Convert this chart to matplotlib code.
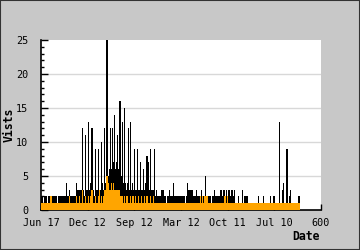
import matplotlib
matplotlib.use("Agg")
import matplotlib.pyplot as plt
import numpy as np
from matplotlib.patches import Rectangle

# Visits per two-day bin (black) and the lower orange series.
visits = [
    2, 2, 1, 2, 2, 2, 1, 2, 2, 2,
    2, 1, 2, 2, 2, 2, 2, 1, 2, 2,
    2, 2, 2, 2, 2, 1, 2, 4, 2, 2,
    3, 2, 2, 2, 2, 2, 2, 4, 2, 3,
    3, 3, 3, 3, 12, 3, 2, 11, 3, 3,
    13, 3, 2, 4, 12, 3, 3, 2, 9, 3,
    3, 9, 3, 3, 10, 4, 3, 12, 4, 3,
    25, 5, 5, 6, 12, 6, 12, 7, 14, 6,
    7, 11, 6, 5, 16, 4, 5, 13, 4, 15,
    4, 3, 4, 12, 3, 13, 3, 4, 3, 3,
    9, 3, 3, 9, 3, 3, 7, 3, 3, 6,
    3, 4, 3, 8, 7, 3, 3, 9, 3, 3,
    3, 9, 2, 3, 2, 2, 2, 2, 2, 3,
    2, 3, 2, 2, 1, 2, 2, 3, 2, 2,
    2, 4, 2, 2, 2, 1, 2, 2, 2, 2,
    2, 2, 2, 2, 1, 2, 4, 2, 3, 2,
    3, 2, 3, 2, 2, 2, 3, 2, 2, 2,
    2, 3, 2, 2, 1, 2, 5, 2, 2, 2,
    2, 2, 1, 2, 2, 3, 2, 2, 1, 2,
    2, 2, 3, 3, 2, 3, 3, 2, 3, 2,
    3, 3, 2, 2, 3, 1, 2, 3, 1, 1,
    1, 2, 1, 1, 1, 3, 1, 1, 2, 1,
    2, 1, 1, 1, 1, 1, 1, 1, 1, 1,
    1, 1, 2, 1, 1, 1, 1, 1, 2, 1,
    1, 1, 1, 1, 1, 2, 1, 1, 1, 2,
    1, 1, 1, 1, 1, 13, 1, 1, 3, 4,
    1, 1, 2, 9, 1, 1, 2, 3, 1, 1,
    1, 1, 1, 1, 1, 2, 2,
]
unique = [
    1, 1, 1, 1, 1, 1, 1, 1, 1, 1,
    2, 1, 1, 1, 1, 1, 1, 1, 1, 1,
    1, 1, 1, 1, 1, 1, 1, 1, 1, 1,
    2, 1, 1, 1, 1, 1, 1, 2, 1, 1,
    1, 2, 1, 1, 3, 1, 1, 2, 1, 1,
    2, 1, 1, 2, 3, 1, 1, 1, 2, 1,
    1, 2, 3, 1, 2, 1, 2, 3, 3, 3,
    5, 5, 4, 3, 3, 4, 3, 4, 3, 3,
    3, 3, 2, 3, 2, 1, 2, 2, 1, 2,
    1, 2, 2, 1, 1, 2, 1, 1, 2, 1,
    1, 2, 1, 1, 2, 1, 1, 2, 1, 1,
    2, 1, 1, 2, 1, 1, 1, 2, 1, 1,
    2, 1, 1, 1, 1, 1, 1, 1, 1, 1,
    1, 1, 1, 1, 1, 1, 1, 1, 1, 1,
    1, 1, 1, 1, 1, 1, 1, 1, 1, 1,
    1, 1, 1, 1, 1, 1, 1, 1, 1, 1,
    1, 1, 1, 1, 1, 1, 1, 1, 1, 1,
    2, 1, 2, 1, 1, 2, 1, 2, 2, 1,
    1, 1, 1, 1, 1, 1, 1, 1, 1, 1,
    1, 1, 1, 1, 1, 1, 2, 2, 1, 2,
    1, 1, 1, 1, 1, 1, 1, 1, 1, 1,
    1, 1, 1, 1, 1, 1, 1, 1, 1, 1,
    1, 1, 1, 1, 1, 1, 1, 1, 1, 1,
    1, 1, 1, 1, 1, 1, 1, 1, 1, 1,
    1, 1, 1, 1, 1, 1, 1, 1, 1, 1,
    1, 1, 1, 1, 1, 1, 1, 1, 1, 1,
    1, 1, 1, 1, 1, 1, 1, 1, 1, 1,
    1, 1, 1, 1, 1, 1, 1,
]
tick_pos = [0, 100, 200, 300, 400, 500, 600]
tick_labels = ["Jun 17", "Dec 12", "Sep 12", "Mar 12", "Oct 11", "Jul 10", "600"]

bin_days = 2
days = np.arange(len(visits)) * bin_days

mono = "DejaVu Sans Mono"
fig = plt.figure(figsize=(3.6, 2.5), dpi=100, facecolor="#c8c8c8")
fig.patches.append(Rectangle((0, 0), 1, 1, transform=fig.transFigure,
                             fill=False, edgecolor="#333333", linewidth=1.5))
ax = fig.add_axes([41 / 360, 40 / 250, 280 / 360, 170 / 250])

# slightly wider than a bin so every bar lands on at least one pixel
bar_w = bin_days * 1.25
ax.bar(days, visits, width=bar_w, align="edge", color="black",
       linewidth=0, antialiased=False, zorder=2)
ax.bar(days, unique, width=bar_w, align="edge", color="#ffa500",
       linewidth=0, antialiased=False, zorder=3)

ax.set_xlim(0, 600)
ax.set_ylim(0, 25)
ax.set_yticks(np.arange(0, 26, 5))
ax.set_yticks(np.arange(0, 26, 1), minor=True)
ax.set_xticks(tick_pos)
ax.set_xticklabels(tick_labels)
for y in [5, 10, 15, 20]:
    ax.axhline(y, color="#d8d8d8", linewidth=1, zorder=1)

ax.tick_params(axis="both", which="both", direction="in", colors="black",
               labelsize=7.3, width=1)
ax.tick_params(axis="y", which="major", length=5, pad=9)
ax.tick_params(axis="y", which="minor", length=2.5)
ax.tick_params(axis="x", which="major", length=4, pad=6)
for lab in ax.get_xticklabels() + ax.get_yticklabels():
    lab.set_family(mono)

for side in ["top", "right"]:
    ax.spines[side].set_visible(False)
ax.spines["left"].set_linewidth(1.2)
ax.spines["bottom"].set_linewidth(1.2)

fig.text(9 / 360, 1 - 125 / 250, "Vists", rotation=90, ha="center", va="center",
         family=mono, fontweight="bold", fontsize=8.3)
fig.text(320 / 360, 1 - 236 / 250, "Date", ha="right", va="center",
         family=mono, fontweight="bold", fontsize=8.3)

fig.savefig("out.png", dpi=100, facecolor=fig.get_facecolor())
